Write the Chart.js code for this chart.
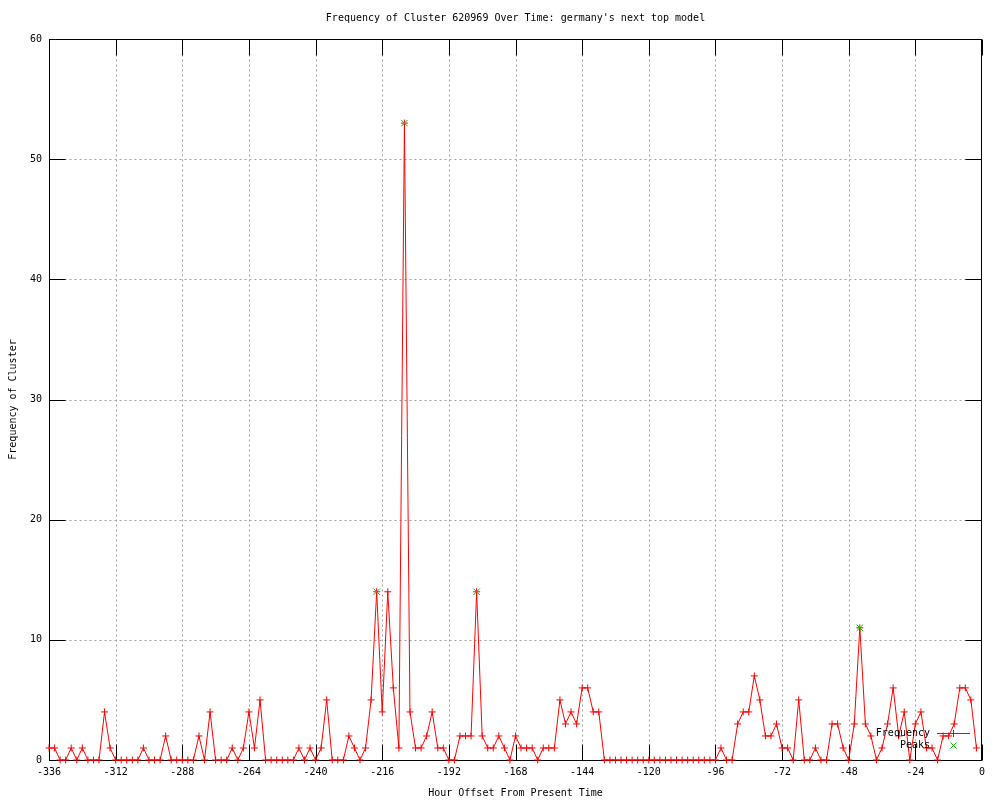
<!DOCTYPE html>
<html><head><meta charset="utf-8">
<script src="https://cdn.jsdelivr.net/npm/chart.js@4.4.0/dist/chart.umd.min.js"></script>
<style>html,body{margin:0;padding:0;background:#fff}canvas{display:block}</style>
</head><body>
<canvas id="c" width="1000" height="800"></canvas>
<script>
// ---- data ----
const hours = [
-336,-334,-332,-330,-328,-326,-324,-322,-320,-318,
-316,-314,-312,-310,-308,-306,-304,-302,-300,-298,
-296,-294,-292,-290,-288,-286,-284,-282,-280,-278,
-276,-274,-272,-270,-268,-266,-264,-262,-260,-258,
-256,-254,-252,-250,-248,-246,-244,-242,-240,-238,
-236,-234,-232,-230,-228,-226,-224,-222,-220,-218,
-216,-214,-212,-210,-208,-206,-204,-202,-200,-198,
-196,-194,-192,-190,-188,-186,-184,-182,-180,-178,
-176,-174,-172,-170,-168,-166,-164,-162,-160,-158,
-156,-154,-152,-150,-148,-146,-144,-142,-140,-138,
-136,-134,-132,-130,-128,-126,-124,-122,-120,-118,
-116,-114,-112,-110,-108,-106,-104,-102,-100,-98,
-96,-94,-92,-90,-88,-86,-84,-82,-80,-78,
-76,-74,-72,-70,-68,-66,-64,-62,-60,-58,
-56,-54,-52,-50,-48,-46,-44,-42,-40,-38,
-36,-34,-32,-30,-28,-26,-24,-22,-20,-18,
-16,-14,-12,-10,-8,-6,-4,-2
];
const frequency = [
1,1,0,0,1,0,1,0,0,0,
4,1,0,0,0,0,0,1,0,0,
0,2,0,0,0,0,0,2,0,4,
0,0,0,1,0,1,4,1,5,0,
0,0,0,0,0,1,0,1,0,1,
5,0,0,0,2,1,0,1,5,14,
4,14,6,1,53,4,1,1,2,4,
1,1,0,0,2,2,2,14,2,1,
1,2,1,0,2,1,1,1,0,1,
1,1,5,3,4,3,6,6,4,4,
0,0,0,0,0,0,0,0,0,0,
0,0,0,0,0,0,0,0,0,0,
0,1,0,0,3,4,4,7,5,2,
2,3,1,1,0,5,0,0,1,0,
0,3,3,1,0,3,11,3,2,0,
1,3,6,2,4,0,3,4,1,1,
0,2,2,3,6,6,5,1
];
const peakHours = [-218, -208, -182, -44];
const peakValues = [14, 53, 14, 11];
const xTicks = { min: -336, max: 0, step: 24 };
const yTicks = { min: 0, max: 60, step: 10 };

const FONT = { family: "'DejaVu Sans Mono', monospace", size: 10, weight: 'normal' };
const FONT_CSS = "10px 'DejaVu Sans Mono', monospace";

const frame = {
  id: 'frame',
  beforeDatasetsDraw(chart) {
    const { ctx, chartArea: a, scales: { x, y } } = chart;
    const L = Math.round(a.left) + 0.5, R = Math.round(a.right) - 0.5;
    const T = Math.round(a.top) + 0.5, B = Math.round(a.bottom) + 0.5;
    ctx.save();
    ctx.lineWidth = 1;
    // grid
    ctx.strokeStyle = '#a0a0a0';
    ctx.setLineDash([2, 3]);
    x.ticks.forEach(t => {
      const px = Math.round(x.getPixelForValue(t.value)) + 0.5;
      if (px > L + 1 && px < R - 1) { ctx.beginPath(); ctx.moveTo(px, T); ctx.lineTo(px, B); ctx.stroke(); }
    });
    y.ticks.forEach(t => {
      const py = Math.round(y.getPixelForValue(t.value)) + 0.5;
      if (py > T + 1 && py < B - 1) { ctx.beginPath(); ctx.moveTo(L, py); ctx.lineTo(R, py); ctx.stroke(); }
    });
    ctx.setLineDash([]);
    // tick marks (inward, mirrored)
    ctx.strokeStyle = '#000';
    const TL = 16;
    x.ticks.forEach(t => {
      const px = Math.round(x.getPixelForValue(t.value)) + 0.5;
      ctx.beginPath(); ctx.moveTo(px, B); ctx.lineTo(px, B - TL);
      ctx.moveTo(px, T); ctx.lineTo(px, T + TL); ctx.stroke();
    });
    y.ticks.forEach(t => {
      const py = Math.round(y.getPixelForValue(t.value)) + 0.5;
      ctx.beginPath(); ctx.moveTo(L, py); ctx.lineTo(L + TL, py);
      ctx.moveTo(R, py); ctx.lineTo(R - TL, py); ctx.stroke();
    });
    // border
    ctx.strokeRect(L, T, R - L, B - T);
    ctx.restore();
  },
  afterDatasetsDraw(chart) {
    const { ctx } = chart;
    const ds = chart.data.datasets;
    ctx.save();
    ctx.font = FONT_CSS;
    ctx.fillStyle = '#000';
    ctx.textAlign = 'right';
    ctx.textBaseline = 'middle';
    ctx.fillText(ds[0].label, 930, 733);
    ctx.fillText(ds[1].label, 930, 745);
    ctx.lineWidth = 1;
    ctx.strokeStyle = ds[0].borderColor;
    ctx.beginPath(); ctx.moveTo(937, 733.5); ctx.lineTo(970, 733.5); ctx.stroke();
    ctx.beginPath(); ctx.moveTo(953.5, 730); ctx.lineTo(953.5, 737); ctx.stroke();
    ctx.strokeStyle = ds[1].borderColor;
    ctx.beginPath();
    ctx.moveTo(950.5, 742.5); ctx.lineTo(956.5, 748.5);
    ctx.moveTo(956.5, 742.5); ctx.lineTo(950.5, 748.5);
    ctx.stroke();
    ctx.restore();
  }
};

new Chart(document.getElementById('c'), {
  type: 'line',
  data: {
    datasets: [
      {
        label: 'Frequency',
        data: hours.map((h, i) => ({ x: h, y: frequency[i] })),
        borderColor: '#ff0000', backgroundColor: '#ff0000',
        borderWidth: 1, tension: 0, fill: false,
        pointStyle: 'cross', pointRadius: 3.5, pointHoverRadius: 3.5,
        pointBorderWidth: 1, pointBorderColor: '#ff0000',
        clip: false, order: 1
      },
      {
        label: 'Peaks',
        data: peakHours.map((h, i) => ({ x: h, y: peakValues[i] })),
        showLine: false,
        borderColor: '#00c000', backgroundColor: '#00c000',
        pointStyle: 'crossRot', pointRadius: 4.5, pointHoverRadius: 4.5,
        pointBorderWidth: 1, pointBorderColor: '#00c000',
        clip: false, order: 0
      }
    ]
  },
  options: {
    responsive: false, animation: false, devicePixelRatio: 1, events: [],
    layout: { padding: { left: 0, right: 18, top: 0, bottom: 0 } },
    plugins: {
      legend: { display: false },
      tooltip: { enabled: false },
      title: {
        display: true, fullSize: false,
        text: "Frequency of Cluster 620969 Over Time: germany's next top model",
        color: '#000', font: FONT, padding: { top: 12, bottom: 15 }
      }
    },
    scales: {
      x: {
        type: 'linear', min: xTicks.min, max: xTicks.max,
        ticks: { stepSize: xTicks.step, color: '#000', font: FONT, padding: 6, maxRotation: 0, autoSkip: false },
        grid: { display: false, drawTicks: false },
        border: { display: false },
        title: { display: true, text: 'Hour Offset From Present Time', color: '#000', font: FONT, padding: { top: 0, bottom: 1 } },
        afterFit(s) { s.height = 40; }
      },
      y: {
        type: 'linear', min: yTicks.min, max: yTicks.max,
        ticks: { stepSize: yTicks.step, color: '#000', font: FONT, padding: 7 },
        grid: { display: false, drawTicks: false },
        border: { display: false },
        title: { display: true, text: 'Frequency of Cluster', color: '#000', font: FONT, padding: { top: 7, bottom: 0 } },
        afterFit(s) { s.width = 49; }
      }
    }
  },
  plugins: [frame]
});
</script>
</body></html>
